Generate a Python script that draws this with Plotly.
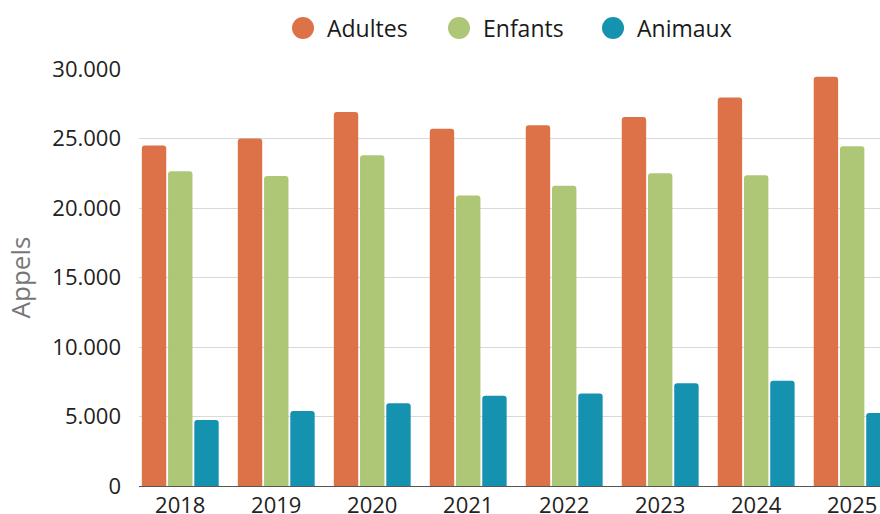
import plotly.graph_objects as go

years = ["2018", "2019", "2020", "2021", "2022", "2023", "2024", "2025"]
adultes = [24500, 25000, 26900, 25700, 25950, 26550, 27950, 29450]
enfants = [22650, 22300, 23800, 20900, 21600, 22500, 22350, 24450]
animaux = [4750, 5400, 5950, 6500, 6650, 7400, 7580, 5250]

series = [("Adultes", adultes, "#DD7148"), ("Enfants", enfants, "#ADC776"), ("Animaux", animaux, "#1592B0")]

# legend layout (pixel positions of legend circle centres)
L, T, W, H = 139, 69, 741, 417
legend_cx = [303, 459, 613]
legend_cy = 28

fig = go.Figure()
for name, vals, col in series:
    fig.add_trace(go.Bar(x=years, y=vals, name=name, marker=dict(color=col, line=dict(width=0)),
                         showlegend=False))

shapes, annotations = [], []
for (name, _, col), cx in zip(series, legend_cx):
    px = (cx - L) / W
    py = (T + H - legend_cy) / H
    shapes.append(dict(type="circle", xref="paper", yref="paper", xsizemode="pixel", ysizemode="pixel",
                       xanchor=px, yanchor=py, x0=-11, x1=11, y0=-11, y1=11,
                       fillcolor=col, line=dict(width=0)))
    annotations.append(dict(text=name, xref="paper", yref="paper", x=(cx + 22 - L) / W, y=py,
                            xanchor="left", yanchor="middle", showarrow=False,
                            font=dict(size=23, color="#1a1a1a")))

fig.update_layout(
    width=880, height=514,
    margin=dict(l=L, r=0, t=T, b=28, autoexpand=False),
    paper_bgcolor="white", plot_bgcolor="white",
    font=dict(family="Open Sans", size=22, color="#222222"),
    separators=",.",
    barmode="group", bargap=0.18, bargroupgap=0.07, barcornerradius=3,
    showlegend=False,
    shapes=shapes, annotations=annotations,
    xaxis=dict(type="category", range=[-0.43, 7.29], showline=True, linecolor="#555555",
               linewidth=1, ticks="", showgrid=False, automargin=False),
    yaxis=dict(range=[0, 30000], dtick=5000, tickformat=",", gridcolor="#D9D9D9",
               gridwidth=1, zeroline=False, ticklabelstandoff=17, automargin=False,
               title=dict(text="Appels", font=dict(size=26, color="#777777"), standoff=14)),
)
fig.write_html("out.html", config={"displayModeBar": False},
               post_script="document.body.style.margin='0';")
